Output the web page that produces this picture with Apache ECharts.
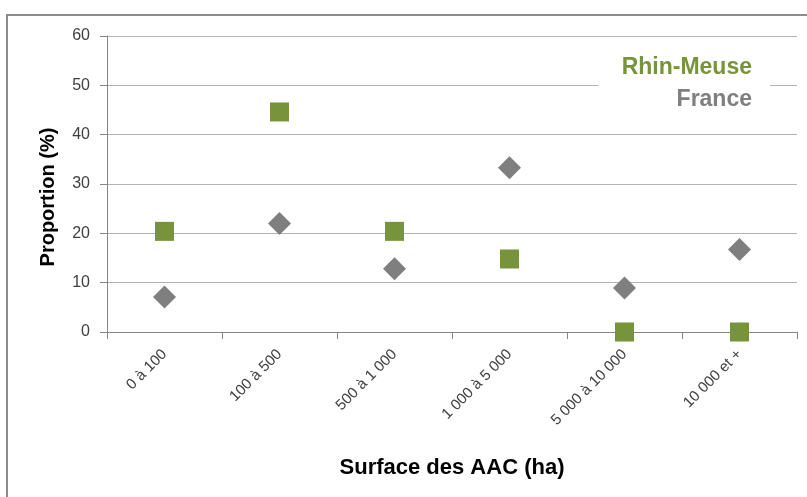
<!DOCTYPE html>
<html>
<head>
<meta charset="utf-8">
<script src="https://cdn.jsdelivr.net/npm/echarts@6/dist/echarts.min.js"></script>
<style>
html,body{margin:0;padding:0;background:#fff;}
#chart{width:807px;height:497px;}
</style>
</head>
<body>
<div id="chart"></div>
<script>
var categories = ['0 à 100', '100 à 500', '500 à 1 000', '1 000 à 5 000', '5 000 à 10 000', '10 000 et +'];
var rhinMeuse = [20.4, 44.6, 20.4, 14.8, 0, 0];
var france = [7.1, 22.0, 12.8, 33.3, 8.9, 16.7];
var yTicks = [0, 10, 20, 30, 40, 50, 60];

var FONT = '"Liberation Sans", Arial, sans-serif';
var chart = echarts.init(document.getElementById('chart'), null, {renderer: 'canvas'});
chart.setOption({
  animation: false,
  backgroundColor: '#ffffff',
  graphic: [{
    type: 'rect', z: 100, silent: true,
    shape: {x: 7, y: 15, width: 830, height: 520},
    style: {fill: 'none', stroke: '#8c8c8c', lineWidth: 2}
  }],
  grid: {left: 107, right: 10, top: 36, bottom: 165, containLabel: false},
  legend: [{
    data: [{name: 'Rhin-Meuse', textStyle: {color: '#77933c'}}],
    icon: 'none', itemWidth: 0, itemGap: 0,
    right: 37, top: 51, padding: [5, 18, 12, 18],
    backgroundColor: '#ffffff',
    textStyle: {fontFamily: FONT, fontWeight: 'bold', fontSize: 23}
  }, {
    data: [{name: 'France', textStyle: {color: '#7f7f7f'}}],
    icon: 'none', itemWidth: 0, itemGap: 0,
    right: 50, top: 83, padding: [5, 5, 5, 5],
    backgroundColor: '#ffffff',
    textStyle: {fontFamily: FONT, fontWeight: 'bold', fontSize: 23}
  }],
  xAxis: {
    type: 'category',
    data: categories,
    boundaryGap: true,
    name: 'Surface des AAC (ha)',
    nameLocation: 'middle',
    nameGap: 125,
    nameTextStyle: {fontFamily: FONT, fontWeight: 'bold', fontSize: 22, color: '#000'},
    axisLine: {show: true, lineStyle: {color: '#868686', width: 1}},
    axisTick: {show: true, alignWithLabel: false, length: 7, lineStyle: {color: '#868686'}},
    axisLabel: {rotate: 45, margin: 20, fontFamily: FONT, fontSize: 15, color: '#404040', interval: 0},
    splitLine: {show: false}
  },
  yAxis: {
    type: 'value',
    min: 0, max: 60, interval: 10,
    name: 'Proportion (%)',
    nameLocation: 'middle',
    nameGap: 49,
    nameRotate: 90,
    nameTextStyle: {fontFamily: FONT, fontWeight: 'bold', fontSize: 20, color: '#000', padding: [0, 26, 0, 0]},
    axisLine: {show: true, lineStyle: {color: '#868686', width: 1}},
    axisTick: {show: true, length: 7, lineStyle: {color: '#868686'}},
    axisLabel: {
      margin: 17, fontFamily: FONT, fontSize: 16, color: '#404040',
      formatter: function (v) { return yTicks.indexOf(v) >= 0 ? String(v) : ''; }
    },
    splitLine: {show: true, lineStyle: {color: '#b3b3b3', width: 1}}
  },
  series: [{
    name: 'Rhin-Meuse',
    type: 'scatter',
    data: rhinMeuse,
    symbol: 'rect',
    symbolSize: 19,
    itemStyle: {color: '#77933c', opacity: 1},
    z: 3
  }, {
    name: 'France',
    type: 'scatter',
    data: france,
    symbol: 'diamond',
    symbolSize: [23, 23],
    itemStyle: {color: '#7f7f7f', opacity: 1},
    z: 2
  }]
});
</script>
</body>
</html>
